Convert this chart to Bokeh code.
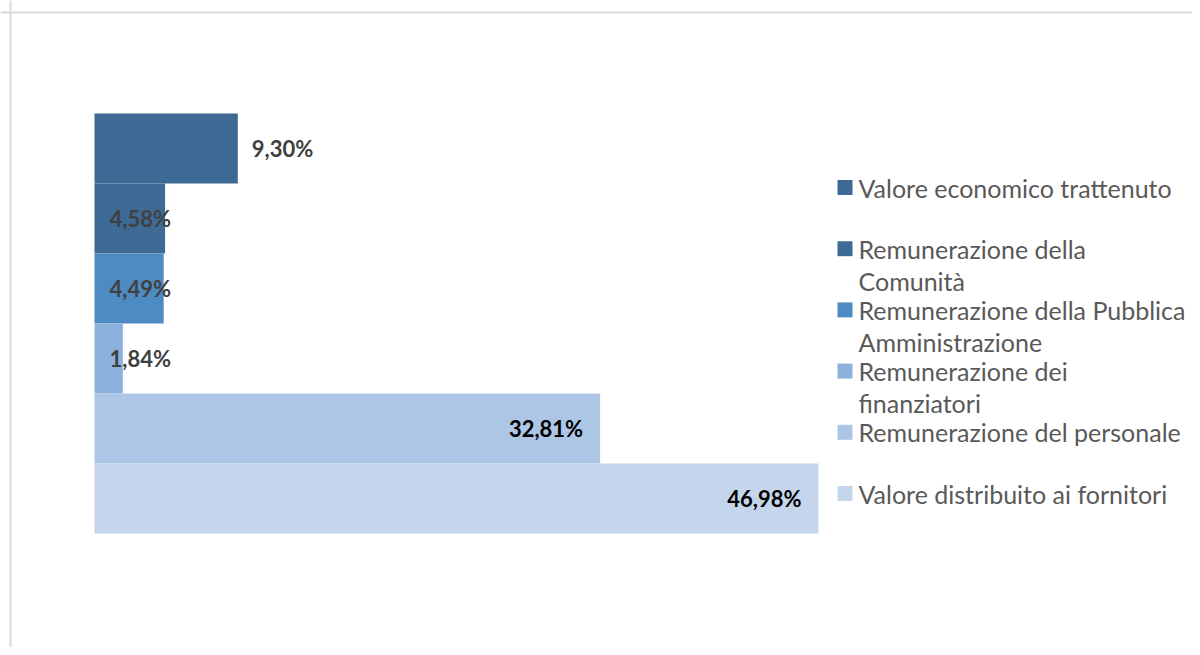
from bokeh.plotting import figure
from bokeh.models import Range1d, Span, ColumnDataSource
from bokeh.core.properties import value
from bokeh.embed import file_html
from bokeh.resources import INLINE

# ---- data ----
categories = [
    "Valore economico trattenuto",
    "Remunerazione della Comunità",
    "Remunerazione della Pubblica Amministrazione",
    "Remunerazione dei finanziatori",
    "Remunerazione del personale",
    "Valore distribuito ai fornitori",
]
legend_labels = [
    "Valore economico trattenuto",
    "Remunerazione della\nComunità",
    "Remunerazione della Pubblica\nAmministrazione",
    "Remunerazione dei\nfinanziatori",
    "Remunerazione del personale",
    "Valore distribuito ai fornitori",
]
values = [9.30, 4.58, 4.49, 1.84, 32.81, 46.98]
value_labels = ["9,30%", "4,58%", "4,49%", "1,84%", "32,81%", "46,98%"]

# ---- style ----
bar_colors = ["#3E6B96", "#3E6B96", "#4E8BC3", "#8CB1DC", "#ADC6E6", "#C5D6EC"]
label_colors = ["#404040", "#404040", "#404040", "#404040", "#000000", "#000000"]

# ---- layout (pixels) ----
W, H = 1192, 647
px_per_pct = 15.41
zero_px = 94          # zero line, px from left
bar_px = 70           # bar thickness
top_px = 113          # top of first bar
leg_sq_px = 844.5     # legend square centre
leg_txt_px = 858      # legend text start
leg_first_py = 187    # first legend row
leg_pitch = 61.2
leg_line = 32

n = len(values)


def px_to_x(px):
    return (px - zero_px) / px_per_pct


def py_to_y(py):
    return -0.5 + (py - top_px) / bar_px


x_start, x_end = px_to_x(0), px_to_x(W)
y_top, y_bottom = py_to_y(0), py_to_y(H)

p = figure(width=W, height=H, output_backend="svg", toolbar_location=None,
           x_axis_type=None, y_axis_type=None,
           x_range=Range1d(x_start, x_end), y_range=Range1d(y_bottom, y_top),
           min_border=0, min_border_left=0, min_border_right=0,
           min_border_top=0, min_border_bottom=0)
p.grid.visible = False
p.outline_line_color = None
p.background_fill_color = "white"
p.border_fill_color = "white"

idx = list(range(n))
src = ColumnDataSource(dict(y=idx, right=values, color=bar_colors, cat=categories))
p.hbar(y="y", left=0, right="right", height=1.0, fill_color="color",
       line_color=None, source=src)

# data labels
lx, ldx, lal = [], [], []
for v in values:
    if v < 5:
        lx.append(0); ldx.append(15); lal.append("left")
    elif v < 20:
        lx.append(v); ldx.append(14); lal.append("left")
    else:
        lx.append(v); ldx.append(-17); lal.append("right")
lsrc = ColumnDataSource(dict(x=lx, y=idx, dx=ldx, al=lal, t=value_labels, c=label_colors))
p.text(x="x", y="y", text="t", x_offset="dx", text_align="al", text_baseline="middle",
       text_color="c", text_font=value("Lato"), text_font_style="bold",
       text_font_size="22px", source=lsrc)

# chart border (left / top)
p.add_layout(Span(location=px_to_x(10), dimension="height",
                  line_color="#D9D9D9", line_width=2))
p.add_layout(Span(location=py_to_y(12), dimension="width",
                  line_color="#D9D9D9", line_width=2))

# legend
entry_y = [py_to_y(leg_first_py + i * leg_pitch) for i in range(n)]
p.scatter(x=[px_to_x(leg_sq_px)] * n, y=entry_y, marker="square", size=15,
          fill_color=bar_colors, line_color=None)
tx, ty, toff, tt = [], [], [], []
for i, lab in enumerate(legend_labels):
    for j, line in enumerate(lab.split("\n")):
        tx.append(px_to_x(leg_txt_px)); ty.append(entry_y[i])
        toff.append(j * leg_line); tt.append(line)
p.text(x=tx, y=ty, text=tt, y_offset=toff, text_align="left", text_baseline="middle",
       text_color="#595959", text_font=value("Lato"), text_font_size="25px")

open("out.html", "w").write(file_html(p, INLINE))
